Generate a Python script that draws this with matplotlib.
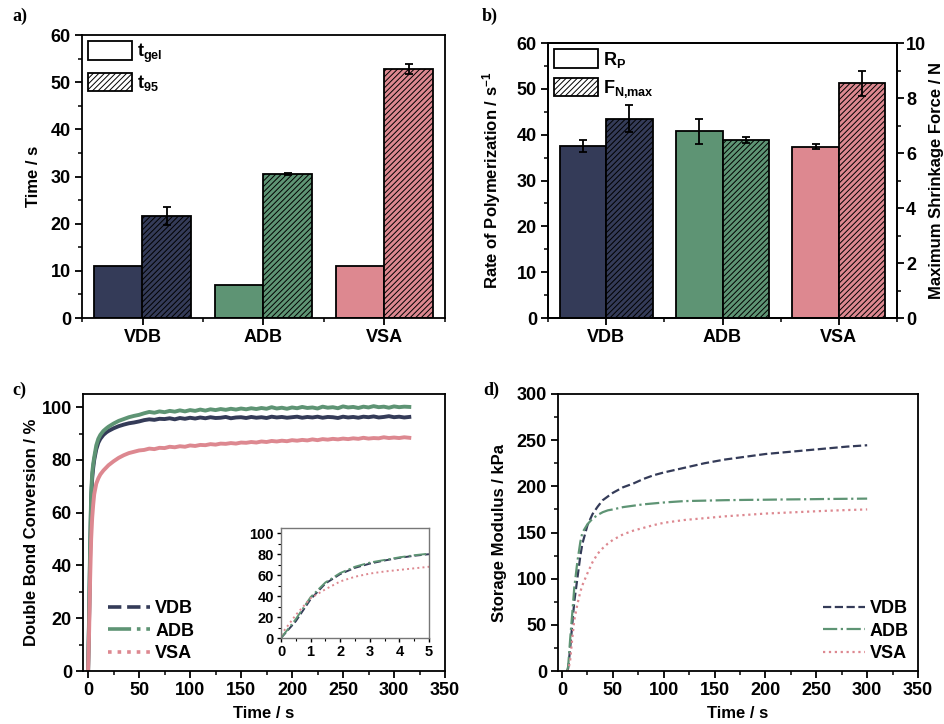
import numpy as np
import matplotlib
matplotlib.use("Agg")
import matplotlib.pyplot as plt
from matplotlib.patches import Patch
from matplotlib.lines import Line2D
from matplotlib.ticker import MultipleLocator, FixedLocator

plt.rcParams.update({
    "font.family": ["Liberation Sans", "DejaVu Sans"],
    "font.weight": "bold",
    "axes.labelweight": "bold",
    "font.size": 12,
    "axes.labelsize": 12,
    "axes.linewidth": 1.3,
    "hatch.linewidth": 0.7,
    "mathtext.fontset": "custom",
    "mathtext.rm": "Liberation Sans:bold",
    "mathtext.it": "Liberation Sans:bold",
    "mathtext.bf": "Liberation Sans:bold",
    "mathtext.default": "bf",
})

samples = ["VDB", "ADB", "VSA"]
colors = ["#343b58", "#5e9474", "#dd8890"]

# a) gel time and t95
t_gel = [11, 7, 11]
t_95 = [21.7, 30.6, 52.8]
t_95_err = [1.9, 0.2, 1.1]

# b) rate of polymerization and max shrinkage force
rate_p = [37.6, 40.7, 37.4]
rate_p_err = [1.3, 2.8, 0.5]
f_max = [7.25, 6.48, 8.53]
f_max_err = [0.48, 0.12, 0.45]

# c) double bond conversion (%)
t_c_early = [0, 1, 2, 3, 4, 5, 6, 8, 10, 12, 15, 18, 20, 25, 30, 35, 40, 45, 50]
t_c_late = list(range(55, 320, 5))
conv_vdb = [0, 20, 45, 65, 73, 77, 80, 84, 86.5, 88, 89.5, 90.5, 91, 92, 92.8, 93.4, 93.9, 94.2, 94.6,
            95.1, 95.4, 95.2, 95.6, 95.5, 95.8, 95.4, 95.9, 95.6, 96.0,
            95.7, 96.1, 95.8, 96.2, 95.9, 96.0, 96.3, 95.8, 96.1, 96.2,
            95.9, 96.3, 96.0, 96.2, 95.9, 96.4, 96.1, 96.3, 96.0, 96.2,
            96.4, 96.0, 96.3, 96.1, 96.4, 96.0, 96.3, 96.2, 95.9, 96.4,
            96.1, 96.3, 96.0, 96.4, 96.2, 96.5, 96.1, 96.3, 96.6, 96.2,
            96.4, 96.1, 96.3]
conv_adb = [0, 22, 48, 67, 75, 78.5, 81, 85.5, 88, 89.5, 91, 92, 92.6, 93.8, 94.8, 95.5, 96.2, 96.7, 97.1,
            97.7, 98.2, 97.9, 98.4, 98.1, 98.6, 98.3, 98.8, 98.4, 98.9,
            98.6, 99.1, 98.7, 99.2, 98.9, 99.3, 99.0, 99.4, 99.1, 99.5,
            99.2, 99.6, 99.3, 99.7, 99.4, 100.0, 99.5, 99.8, 99.4, 99.9,
            99.6, 100.1, 99.7, 99.9, 99.5, 100.2, 99.8, 100.0, 99.6, 100.3,
            99.9, 100.1, 99.7, 100.2, 99.9, 100.4, 100.0, 100.2, 99.8, 100.3,
            100.0, 100.2, 100.1]
conv_vsa = [0, 15, 35, 50, 58, 63, 67, 71, 73, 74.5, 76, 77.2, 78, 79.5, 80.8, 81.8, 82.6, 83.1, 83.6,
            83.8, 84.3, 84.1, 84.6, 84.5, 85.0, 84.8, 85.2, 85.0, 85.5,
            85.3, 85.7, 85.6, 86.0, 85.8, 86.2, 86.1, 86.4, 86.2, 86.6,
            86.5, 86.8, 86.6, 87.0, 86.8, 87.2, 87.0, 87.3, 87.1, 87.5,
            87.3, 87.6, 87.4, 87.8, 87.5, 87.9, 87.7, 88.0, 87.8, 88.1,
            87.9, 88.2, 88.0, 88.4, 88.1, 88.3, 88.2, 88.6, 88.3, 88.5,
            88.3, 88.6, 88.4]
t_c = t_c_early + t_c_late

# c) inset, first 5 s
t_in = [0, 0.5, 1, 1.5, 2, 2.5, 3, 3.5, 4, 4.5, 5]
in_vdb = [0, 16, 37, 52, 61, 67, 71, 74, 76.5, 78.5, 80]
in_adb = [0, 18, 39, 53, 62, 68, 72, 74.5, 77, 79, 80.5]
in_vsa = [3, 22, 38, 46.5, 54, 58.5, 61.5, 63.5, 65, 66.5, 68]

# d) storage modulus (kPa)
t_d = [5, 6, 8, 10, 12, 15, 18, 20, 25, 30, 35, 40, 45, 50, 60, 70, 80, 90, 100,
       120, 140, 160, 180, 200, 220, 240, 260, 280, 300]
g_vdb = [0, 3, 25, 50, 75, 100, 125, 138, 158, 170, 178, 185, 189, 193, 199, 203, 208, 212, 215,
         220, 225, 229, 232, 235, 237, 239, 241, 243, 244.5]
g_adb = [0, 5, 35, 62, 90, 118, 140, 150, 159, 165, 169, 172, 174, 175, 177.5, 179, 180.5, 181.5, 182.5,
         184, 184.5, 185, 185.3, 185.5, 185.8, 186, 186.3, 186.5, 186.7]
g_vsa = [0, 0, 12, 35, 55, 72, 86, 93, 106, 118, 127, 133, 138, 142, 148, 152, 155, 158, 160.5,
         163.5, 165.5, 167.5, 169, 170.5, 171.5, 172.5, 173.5, 174.3, 175]

styles = ["--", "-.", ":"]
HATCH = "//////"


def ticks(ax, size=13, pad=3):
    ax.tick_params(which="major", direction="out", length=5, width=1.3, labelsize=size, pad=pad)
    ax.tick_params(which="minor", direction="out", length=3, width=1.1)


fig = plt.figure(figsize=(9.44, 7.24), dpi=100)
W, H = 944, 724


def axes_px(l, t, r, b):
    return fig.add_axes([l / W, 1 - b / H, (r - l) / W, (b - t) / H])


x = np.arange(1, len(samples) + 1)
bar_legend_kw = dict(loc="upper left", frameon=False, handlelength=2.4, handleheight=1.2,
                     handletextpad=0.3, labelspacing=0.45, borderaxespad=0.1, borderpad=0.25,
                     fontsize=13)
line_legend_kw = dict(frameon=False, handlelength=2.3, handletextpad=0.3, labelspacing=0.3,
                      borderaxespad=0.1, fontsize=13)

# ---- a)
ax = axes_px(82, 35, 445, 318)
ax.bar(x - 0.2, t_gel, 0.4, color=colors, edgecolor="k", lw=1.3)
ax.bar(x + 0.2, t_95, 0.4, color=colors, edgecolor="k", lw=1.3, hatch=HATCH)
ax.errorbar(x + 0.2, t_95, yerr=t_95_err, fmt="none", ecolor="k", capsize=3,
            elinewidth=1.3, capthick=1.3)
ax.set_xlim(0.5, 3.5)
ax.set_ylim(0, 60)
ax.set_xticks(x, samples)
ax.xaxis.set_minor_locator(FixedLocator([0.5, 1.5, 2.5, 3.5]))
ax.yaxis.set_major_locator(MultipleLocator(10))
ax.yaxis.set_minor_locator(MultipleLocator(5))
ax.set_ylabel("Time / s", labelpad=7)
ticks(ax)
ax.legend(handles=[Patch(facecolor="w", edgecolor="k", lw=1.3),
                   Patch(facecolor="w", edgecolor="k", lw=1.3, hatch=HATCH)],
          labels=["t$_{gel}$", "t$_{95}$"], **bar_legend_kw)

# ---- b)
ax = axes_px(548, 43, 897, 318)
ax.bar(x - 0.2, rate_p, 0.4, color=colors, edgecolor="k", lw=1.3)
ax.errorbar(x - 0.2, rate_p, yerr=rate_p_err, fmt="none", ecolor="k", capsize=3,
            elinewidth=1.3, capthick=1.3)
ax.set_xlim(0.5, 3.5)
ax.set_ylim(0, 60)
ax.set_xticks(x, samples)
ax.xaxis.set_minor_locator(FixedLocator([0.5, 1.5, 2.5, 3.5]))
ax.yaxis.set_major_locator(MultipleLocator(10))
ax.yaxis.set_minor_locator(MultipleLocator(5))
ax.set_ylabel("Rate of Polymerization / s$^{-1}$", labelpad=10)
ticks(ax)
ax2 = ax.twinx()
ax2.bar(x + 0.2, f_max, 0.4, color=colors, edgecolor="k", lw=1.3, hatch=HATCH)
ax2.errorbar(x + 0.2, f_max, yerr=f_max_err, fmt="none", ecolor="k", capsize=3,
             elinewidth=1.3, capthick=1.3)
ax2.set_ylim(0, 10)
ax2.yaxis.set_major_locator(MultipleLocator(2))
ax2.yaxis.set_minor_locator(MultipleLocator(1))
ax2.set_ylabel("Maximum Shrinkage Force / N", labelpad=2)
ticks(ax2, pad=1.5)
ax2.legend(handles=[Patch(facecolor="w", edgecolor="k", lw=1.3),
                    Patch(facecolor="w", edgecolor="k", lw=1.3, hatch=HATCH)],
           labels=["R$_P$", "F$_{N{,}max}$"], **bar_legend_kw)

# ---- c)
ax = axes_px(83, 394, 445, 671)
for yv, c in zip([conv_vdb, conv_adb, conv_vsa], colors):
    ax.plot(t_c, yv, color=c, lw=2.8)
ax.set_xlim(-5, 350)
ax.set_ylim(0, 105)
ax.xaxis.set_major_locator(MultipleLocator(50))
ax.xaxis.set_minor_locator(MultipleLocator(25))
ax.yaxis.set_major_locator(MultipleLocator(20))
ax.yaxis.set_minor_locator(MultipleLocator(10))
ax.set_xlabel("Time / s", labelpad=5)
ax.set_ylabel("Double Bond Conversion / %", labelpad=2)
ticks(ax)
ax.legend(handles=[Line2D([], [], color=c, ls=s, lw=2.6) for c, s in zip(colors, styles)],
          labels=samples, loc="lower left", bbox_to_anchor=(0.045, 0.0), **line_legend_kw)

axi = axes_px(281, 528, 429, 638)
for yv, c, s in zip([in_vdb, in_adb, in_vsa], colors, styles):
    axi.plot(t_in, yv, color=c, ls=s, lw=1.4)
axi.set_xlim(0, 5)
axi.set_ylim(0, 105)
axi.xaxis.set_major_locator(MultipleLocator(1))
axi.xaxis.set_minor_locator(MultipleLocator(0.5))
axi.yaxis.set_major_locator(MultipleLocator(20))
axi.yaxis.set_minor_locator(MultipleLocator(10))
axi.tick_params(which="major", direction="out", length=3, width=1, labelsize=10.5, pad=2)
axi.tick_params(which="minor", direction="out", length=2, width=0.8)
for sp in axi.spines.values():
    sp.set_color("#777777")
    sp.set_linewidth(1.0)

# ---- d)
ax = axes_px(558, 394, 918, 671)
for yv, c, s in zip([g_vdb, g_adb, g_vsa], colors, styles):
    ax.plot(t_d, yv, color=c, ls=s, lw=1.6)
ax.set_xlim(-4, 350)
ax.set_ylim(0, 300)
ax.xaxis.set_major_locator(MultipleLocator(50))
ax.xaxis.set_minor_locator(MultipleLocator(25))
ax.yaxis.set_major_locator(MultipleLocator(50))
ax.yaxis.set_minor_locator(MultipleLocator(25))
ax.set_xlabel("Time / s", labelpad=5)
ax.set_ylabel("Storage Modulus / kPa", labelpad=7)
ticks(ax)
ax.legend(handles=[Line2D([], [], color=c, ls=s, lw=1.6) for c, s in zip(colors, styles)],
          labels=samples, loc="lower right", **line_legend_kw)

for lbl, px, py in [("a)", 12, 16), ("b)", 482, 16), ("c)", 12, 390), ("d)", 483, 390)]:
    fig.text(px / W, 1 - py / H, lbl, family="Liberation Serif", weight="bold",
             size=13, va="center", ha="left")

fig.savefig("out.png", dpi=100)
